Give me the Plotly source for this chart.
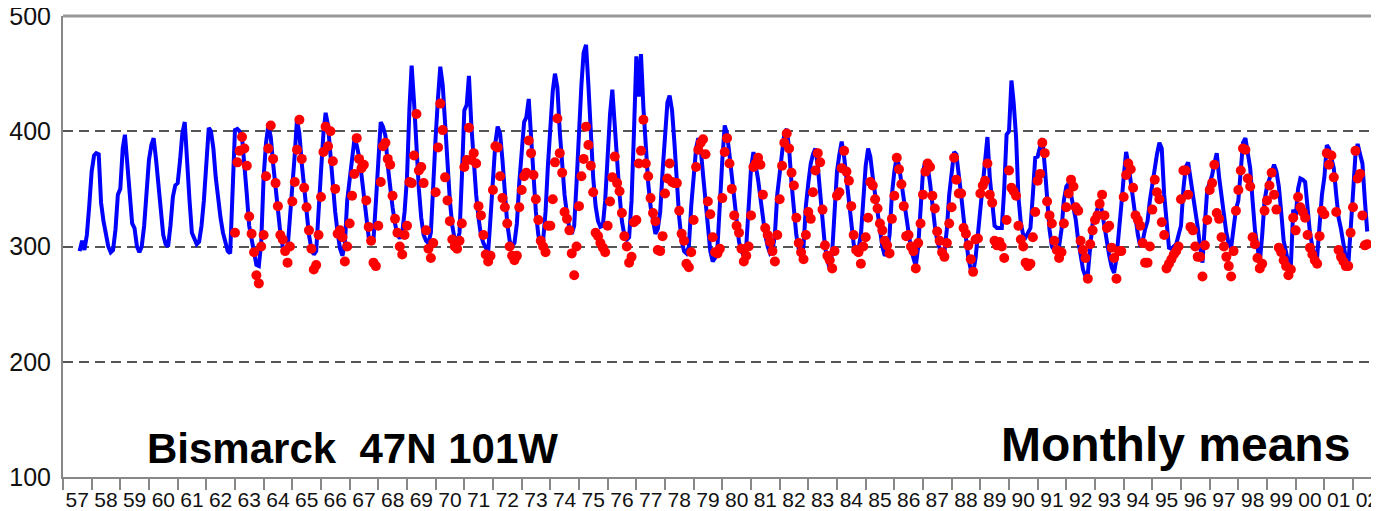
import pandas as pd
import plotly.graph_objects as go

# ---------------- data (monthly means) ----------------
blue_start = "1957-08-01"
blue_1957_1969 = [
    296, 305, 297, 310, 335,
    365, 379, 381, 380, 338, 322, 310, 300, 295, 297, 315, 345,
    350, 385, 397, 370, 340, 320, 316, 300, 295, 300, 318, 345,
    375, 388, 394, 375, 355, 330, 310, 302, 300, 318, 343, 353,
    355, 375, 398, 408, 370, 340, 312, 306, 302, 304, 318, 340,
    368, 403, 400, 385, 360, 340, 325, 312, 302, 296, 294, 340,
    401, 402, 400, 395, 373, 345, 318, 305, 292, 284, 283, 303,
    360, 390, 405, 395, 372, 350, 330, 312, 300, 296, 298, 325,
    345, 380, 410, 398, 372, 348, 326, 310, 298, 293, 296, 335,
    365, 398, 416, 405, 378, 352, 330, 312, 298, 292, 302, 340,
    360, 378, 392, 388, 378, 362, 342, 322, 308, 302, 306, 338,
    372, 408, 404, 396, 370, 350, 334, 320, 310, 307, 312, 330,
    360, 420, 457, 425, 385, 350, 325, 310, 305, 303, 312, 360,
]
blue_1970_1979 = [
    395, 430, 456, 440, 405, 370, 340, 318, 306, 304, 312, 360,
    418, 423, 448, 405, 372, 345, 325, 310, 303, 298, 295, 325,
    356, 390, 404, 398, 375, 345, 320, 305, 300, 303, 320, 355,
    380, 408, 412, 428, 395, 360, 330, 310, 301, 305, 330, 370,
    405, 435, 450, 438, 400, 370, 345, 328, 316, 311, 318, 355,
    405, 440, 468, 475, 440, 395, 360, 335, 322, 317, 318, 340,
    380, 415, 436, 410, 375, 345, 322, 310, 306, 308, 340, 398,
    465, 430, 467, 420, 385, 355, 335, 320, 311, 315, 330, 365,
    400, 425, 431, 418, 390, 355, 325, 305, 296, 294, 300, 335,
    360, 385, 394, 385, 362, 338, 315, 296, 287, 290, 300, 340,
]
blue_1980_1989 = [
    375, 405, 398, 380, 360, 338, 318, 304, 296, 292, 300, 340,
    368, 382, 372, 358, 342, 325, 310, 300, 294, 296, 310, 345,
    365, 385, 398, 402, 385, 355, 330, 310, 298, 291, 300, 335,
    355, 372, 380, 385, 370, 345, 320, 300, 288, 281, 295, 330,
    365, 380, 391, 378, 360, 340, 318, 302, 295, 298, 310, 340,
    370, 385, 378, 360, 345, 328, 312, 300, 292, 296, 310, 345,
    365, 378, 370, 355, 340, 322, 308, 298, 290, 283, 300, 335,
    365, 374, 370, 355, 335, 318, 305, 298, 292, 295, 315, 345,
    368, 382, 380, 365, 345, 325, 305, 290, 280, 277, 290, 310,
    333, 355, 375, 395, 360, 335, 318, 316, 316, 316, 350, 397,
]
blue_1990_2002 = [
    400, 444, 425, 395, 343, 320, 310, 308, 312, 316, 345, 377,
    378, 385, 394, 370, 338, 315, 300, 297, 297, 300, 315, 340,
    352, 355, 345, 335, 323, 305, 290, 280, 274, 276, 300, 320,
    325, 335, 340, 330, 316, 305, 292, 282, 277, 290, 310, 335,
    360, 382, 372, 355, 340, 325, 310, 300, 305, 315, 322, 340,
    355, 365, 380, 390, 385, 345, 318, 299, 298, 300, 302, 310,
    318, 350, 369, 373, 360, 346, 330, 317, 300, 286, 320, 350,
    355, 362, 372, 381, 360, 340, 328, 312, 302, 299, 315, 332,
    340, 370, 390, 394, 380, 368, 340, 314, 300, 286, 310, 340,
    352, 358, 365, 371, 365, 352, 330, 305, 295, 285, 283, 332,
    325, 350, 359, 358, 356, 335, 312, 300, 292, 291, 320, 345,
    360, 388, 385, 375, 368, 345, 325, 315, 300, 290, 283, 320,
    346, 380, 389, 380, 372, 340, 313,
]

red_start = "1963-01-01"
red_1963_1969 = [
    312, 373, 383, 395, 385, 370, 326, 311, 295, 275, 268, 300,
    310, 361, 385, 405, 376, 355, 335, 310, 306, 296, 286, 300,
    339, 356, 384, 410, 376, 351, 334, 314, 298, 280, 284, 310,
    343, 382, 404, 387, 400, 374, 350, 311, 314, 308, 287, 300,
    320, 344, 363, 394, 376, 368, 371, 340, 317, 305, 286, 283,
    318, 356, 387, 390, 376, 371, 344, 324, 312, 300, 293, 310,
    318, 356, 355, 379, 415, 366, 369, 355, 314, 298, 290, 303,
]
red_1970_1979 = [
    347, 386, 424, 401, 360, 340, 322, 306, 300, 298, 305, 320,
    369, 375, 403, 375, 381, 372, 335, 327, 310, 293, 287, 292,
    349, 387, 386, 361, 342, 334, 320, 300, 292, 288, 292, 334,
    349, 361, 364, 392, 381, 362, 341, 323, 305, 300, 295, 318,
    318, 341, 373, 411, 381, 364, 330, 324, 314, 294, 275, 300,
    335, 361, 376, 404, 388, 370, 347, 312, 309, 303, 299, 295,
    318, 339, 360, 378, 355, 348, 329, 309, 300, 286, 291, 321,
    323, 372, 383, 410, 372, 361, 342, 329, 322, 297, 296, 309,
    346, 359, 372, 356, 355, 355, 331, 311, 305, 285, 282, 295,
    323, 369, 384, 390, 393, 380, 339, 328, 308, 295, 294, 298,
]
red_1980_1989 = [
    342, 382, 394, 372, 350, 327, 318, 312, 298, 287, 292, 300,
    327, 369, 372, 377, 371, 345, 316, 310, 304, 296, 287, 310,
    341, 370, 390, 398, 385, 364, 353, 325, 303, 295, 289, 310,
    330, 324, 347, 366, 381, 373, 332, 301, 292, 288, 281, 296,
    344, 347, 368, 383, 365, 357, 335, 310, 297, 295, 285, 300,
    308, 325, 356, 353, 341, 333, 320, 314, 305, 301, 294, 324,
    344, 377, 367, 354, 335, 309, 310, 300, 296, 281, 303, 320,
    345, 365, 372, 369, 344, 333, 313, 305, 295, 291, 303, 320,
    334, 377, 358, 346, 346, 316, 311, 301, 289, 278, 306, 307,
    346, 353, 357, 372, 345, 338, 305, 301, 304, 300, 290, 323,
]
red_1990_2002 = [
    366, 351, 348, 344, 318, 306, 300, 286, 283, 285, 308, 330,
    357, 363, 390, 381, 339, 327, 320, 305, 297, 290, 295, 320,
    334, 346, 358, 352, 334, 331, 305, 297, 290, 272, 302, 314,
    323, 327, 337, 345, 327, 316, 318, 299, 290, 272, 296, 296,
    343, 362, 372, 367, 351, 327, 323, 318, 303, 286, 286, 300,
    332, 358, 347, 341, 321, 310, 281, 285, 289, 293, 296, 300,
    341, 366, 366, 345, 317, 314, 300, 291, 291, 274, 301, 323,
    349, 355, 371, 329, 324, 308, 300, 291, 283, 274, 296, 331,
    349, 366, 385, 384, 359, 352, 308, 302, 290, 281, 285, 331,
    340, 353, 364, 345, 332, 299, 295, 288, 283, 275, 280, 325,
    314, 343, 334, 330, 325, 310, 299, 293, 288, 285, 309, 331,
    328, 381, 371, 379, 360, 330, 297, 291, 287, 283, 283, 312,
    334, 383, 359, 363, 327, 301, 302,
]

year_labels = ["57", "58", "59", "60", "61", "62", "63", "64", "65", "66", "67", "68",
               "69", "70", "71", "72", "73", "74", "75", "76", "77", "78", "79", "80",
               "81", "82", "83", "84", "85", "86", "87", "88", "89", "90", "91", "92",
               "93", "94", "95", "96", "97", "98", "99", "00", "01", "02"]
first_year = 1957
y_ticks = [100, 200, 300, 400, 500]
station_text = "Bismarck\u00a0\u00a047N 101W"
kind_text = "Monthly means"

# ---------------- build ----------------
blue = blue_1957_1969 + blue_1970_1979 + blue_1980_1989 + blue_1990_2002
red = red_1963_1969 + red_1970_1979 + red_1980_1989 + red_1990_2002
blue_x = pd.date_range(blue_start, periods=len(blue), freq="MS")
red_x = pd.date_range(red_start, periods=len(red), freq="MS")

label_pos = [f"{first_year + i}-07-02" for i in range(len(year_labels))]

fig = go.Figure()
fig.add_trace(go.Scatter(x=blue_x, y=blue, mode="lines",
                         line=dict(color="#0000FF", width=4), hoverinfo="skip"))
fig.add_trace(go.Scatter(x=red_x, y=red, mode="markers",
                         marker=dict(color="#FF0000", size=10, line=dict(width=0)),
                         hoverinfo="skip"))

# the page body has an 8px default margin, so the figure is 8px smaller
fig.update_layout(
    width=1371, height=503,
    margin=dict(l=55, r=0, t=8, b=34, autoexpand=False),
    paper_bgcolor="white", plot_bgcolor="white",
    showlegend=False,
    font=dict(family="Liberation Sans, Arial, sans-serif", color="#111"),
    xaxis=dict(
        type="date", automargin=False, ticklabeloverflow="allow",
        range=["1957-01-01", "2002-11-28"],
        tickvals=label_pos, ticktext=year_labels, ticks="",
        tickfont=dict(size=21, family="Liberation Sans Narrow, Arial Narrow, Liberation Sans, Arial"),
        ticklabelstandoff=3,
        showgrid=False, zeroline=False,
        showline=True, linecolor="#888", linewidth=2,
        minor=dict(dtick="M12", tick0="1957-01-01", ticks="outside",
                   ticklen=11, tickwidth=1.5, tickcolor="#888", showgrid=False),
    ),
    yaxis=dict(
        range=[100, 500], tickvals=y_ticks, ticks="", automargin=False,
        ticklabeloverflow="allow",
        tickfont=dict(size=25), ticklabelstandoff=5,
        showgrid=True, gridcolor="#555", gridwidth=1.5, griddash="10px,6px",
        zeroline=False, showline=True, linecolor="#888", linewidth=2,
    ),
    shapes=[
        dict(type="line", xref="paper", yref="paper", x0=0, x1=1, y0=1, y1=1,
             line=dict(color="#999", width=3)),
        dict(type="line", xref="paper", yref="paper", x0=0.998, x1=0.998, y0=0, y1=1,
             line=dict(color="#ddd", width=1, dash="dot")),
    ],
    annotations=[
        dict(text="<b>" + station_text + "</b>", xref="paper", yref="y", x=0.0623, y=124.7,
             xanchor="left", yanchor="middle", showarrow=False,
             font=dict(size=42, color="#000", family="Liberation Sans, Arial")),
        dict(text="<b>" + kind_text + "</b>", xref="paper", yref="y", x=0.9795, y=128.5,
             xanchor="right", yanchor="middle", showarrow=False,
             font=dict(size=48, color="#000", family="Liberation Sans, Arial")),
    ],
)

fig.write_html("out.html")
